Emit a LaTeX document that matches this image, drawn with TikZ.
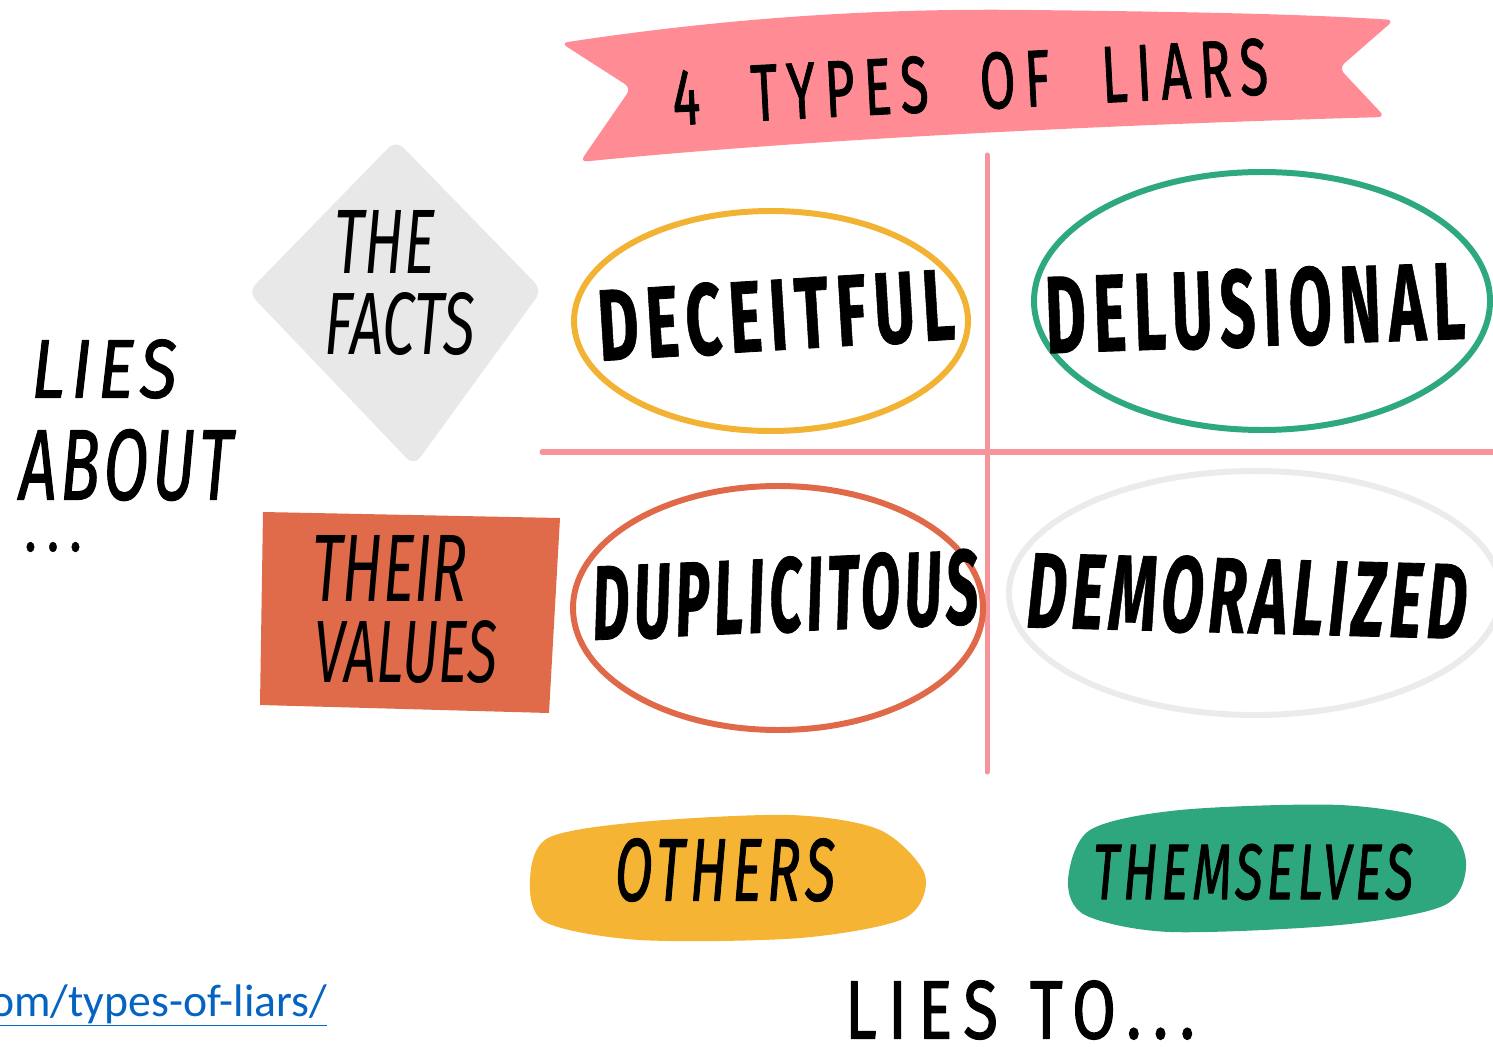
\documentclass[tikz,border=0pt]{standalone}
\usepackage{fontspec}
\setmainfont{Fira Sans}
\newfontfamily\linkfont{Carlito}
\usepackage{tikz}
\usetikzlibrary{positioning}
\definecolor{bannerpink}{HTML}{FF8C94}
\definecolor{crosspink}{HTML}{F7939A}
\definecolor{factgray}{HTML}{E8E8E8}
\definecolor{valuered}{HTML}{E06B4A}
\definecolor{ringyellow}{HTML}{F2B233}
\definecolor{ringgreen}{HTML}{2EA880}
\definecolor{ringred}{HTML}{E0694A}
\definecolor{ringgray}{HTML}{EBEBEB}
\definecolor{blobyellow}{HTML}{F5B433}
\definecolor{blobgreen}{HTML}{2EA77F}
\definecolor{linkblue}{HTML}{0563C1}
\newlength\pxu
\setlength\pxu{0.02cm}
\newcommand{\fitword}[3]{\resizebox{#1\pxu}{#2\pxu}{#3}}

\begin{document}
\begin{tikzpicture}[x=0.02cm, y=-0.02cm, line cap=round, line join=round,
word/.style={inner sep=0pt, font=\bfseries\addfontfeature{LetterSpace=12,FakeBold=0.8}},
slantword/.style={inner sep=0pt, font=\bfseries\itshape\addfontfeature{LetterSpace=8,FakeBold=0.8}},
airy/.style={inner sep=0pt, font=\addfontfeature{LetterSpace=18,FakeBold=1.6}},
hand/.style={inner sep=0pt, font=\itshape},
ring/.style={line width=3.4pt}]
  \useasboundingbox (0,0) rectangle (1493,1047);
  % banner
  \fill[bannerpink, rounded corners=4pt] (561,43) .. controls (700,22) and (850,8) .. (1030,10)
    .. controls (1200,12) and (1300,14) .. (1394,20) -- (1339,68) -- (1385,117)
    .. controls (1100,125) and (800,140) .. (580,162) -- (631,88) -- cycle;
  \node[airy, rotate=3] (title) at (970,82) {\fitword{596}{56}{4\hspace{1em}TYPES\hspace{1em}OF\hspace{1em}LIARS}};
  % grid
  \coordinate (vtop) at (987,155);
  \coordinate (vbot) at (987,772);
  \coordinate (hleft) at (542,452);
  \coordinate (hright) at (1500,452);
  \draw[crosspink, line width=2.85pt] (vtop) -- (vbot);
  \draw[crosspink, line width=2.85pt] (hleft) -- (hright);
  % lies about
  \fill[factgray, rounded corners=6pt] (396,140) -- (542,290) -- (414,466) -- (248,292) -- cycle;
  \fill[valuered] (263,512) -- (560,518) -- (549,713) -- (260,705) -- cycle;
  \node[hand] (the) at (385,242) {\fitword{100}{63}{THE}};
  \node[hand] (facts) at (400,324) {\fitword{150}{62}{FACTS}};
  \node[hand] (their) at (390,568) {\fitword{155}{66}{THEIR}};
  \node[hand] (values) at (406,652) {\fitword{182}{62}{VALUES}};
  \node[hand, font=\itshape\addfontfeature{LetterSpace=10,FakeBold=1.5}] (lies) at (104,369) {\fitword{145}{58}{LIES}};
  \node[hand, font=\itshape\addfontfeature{LetterSpace=6,FakeBold=1.5}] (about) at (126,465) {\fitword{213}{70}{ABOUT}};
  \node[word] (dots) at (53,547) {\fitword{55}{9}{.\hspace{0.3em}.\hspace{0.3em}.}};
  % types
  \foreach \n/\cx/\cy/\rx/\ry/\col in {dec/771/321/197/110/ringyellow, del/1262/301/228/129/ringgreen,
      dup/778/608/205/122/ringred, dem/1255/593/246/122/ringgray}
    \draw[ring, \col] (\cx,\cy) ellipse [x radius=\rx, y radius=\ry];
  \node[word, rotate=3.5] (deceitful) at (776,315) {\fitword{357}{72}{DECEITFUL}};
  \node[word, rotate=2] (delusional) at (1255,308) {\fitword{420}{78}{DELUSIONAL}};
  \node[slantword, rotate=2.5] (duplicitous) at (785,595) {\fitword{386}{75}{DUPLICITOUS}};
  \node[slantword, rotate=-1.5] (demoralized) at (1247,596) {\fitword{440}{76}{DEMORALIZED}};
  % lies to
  \fill[blobyellow] plot[smooth cycle] coordinates {(530,880) (548,838) (640,822) (790,815) (880,830)
    (925,875) (905,918) (800,938) (640,940) (545,922)};
  \fill[blobgreen] plot[smooth cycle] coordinates {(1068,880) (1090,830) (1180,810) (1340,805) (1440,822)
    (1466,862) (1445,905) (1340,925) (1170,932) (1085,915)};
  \node[hand, font=\itshape\addfontfeature{LetterSpace=10,FakeBold=1.5}] (others) at (725,870) {\fitword{220}{62}{OTHERS}};
  \node[hand, font=\itshape\addfontfeature{LetterSpace=8,FakeBold=1.5}] (themselves) at (1253,872) {\fitword{320}{55}{THEMSELVES}};
  \node[airy] (liesto) at (1020,1010) {\fitword{350}{58}{LIES\hspace{0.5em}TO...}};
  % source
  \node[anchor=base west, inner sep=0pt, text=linkblue, font=\linkfont\fontsize{26}{30}\selectfont] (link) at (-10,1016) {\underline{om/types-of-liars/}};
\end{tikzpicture}
\end{document}
